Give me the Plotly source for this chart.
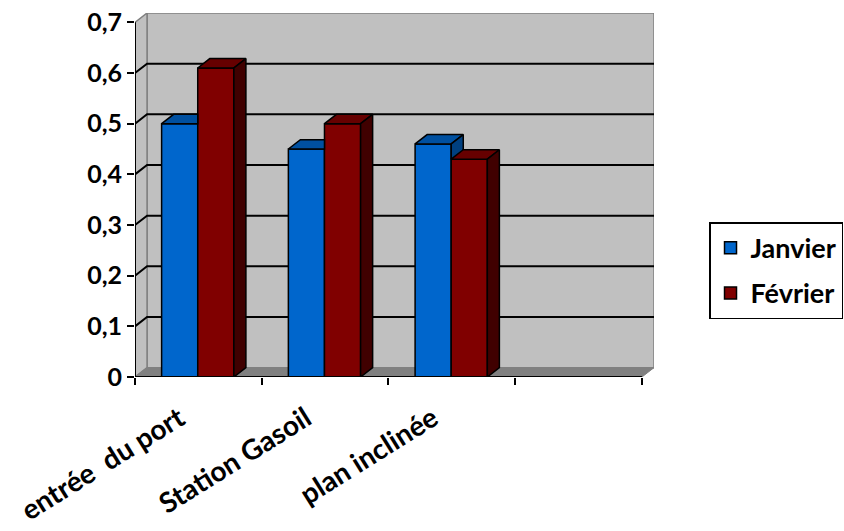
import plotly.graph_objects as go

# ---------------- data ----------------
categories = ["entrée  du port", "Station Gasoil", "plan inclinée", ""]
janvier = [0.50, 0.45, 0.46]
fevrier = [0.61, 0.50, 0.43]
series_names = ["Janvier", "Février"]
y_tick_values = [0, 0.1, 0.2, 0.3, 0.4, 0.5, 0.6, 0.7]
y_tick_labels = ["0", "0,1", "0,2", "0,3", "0,4", "0,5", "0,6", "0,7"]

# ---------------- style ----------------
front_colors = ["#0066CC", "#800000"]
top_colors = ["#0050A0", "#660000"]
side_colors = ["#004080", "#400000"]
WALL = "#C0C0C0"
FLOOR = "#808080"
EDGE = "#808080"
FONT = "Lato"
DX = 0.095      # depth offset in category units
DY = 0.0185     # depth offset in value units
BAR_W = 0.285
OFFSETS = [-0.29, -0.005]
LABEL_SHIFT = -0.15   # rotated category labels sit slightly left of slot centre
YMAX = y_tick_values[-1]
n_slots = len(categories)
x_left, x_right = -0.5, n_slots - 0.5
series = [janvier, fevrier]
x_pos = list(range(len(janvier)))

fig = go.Figure()

# front faces (real bars)
for s, vals in enumerate(series):
    fig.add_trace(go.Bar(
        x=x_pos, y=vals, name=series_names[s], width=BAR_W, offset=OFFSETS[s],
        marker=dict(color=front_colors[s], line=dict(color="black", width=1.5)),
        legendgroup=series_names[s],
    ))

def poly(xs, ys, color):
    fig.add_trace(go.Scatter(
        x=xs + [xs[0]], y=ys + [ys[0]], mode="lines", fill="toself",
        fillcolor=color, line=dict(color="black", width=1.5),
        showlegend=False, hoverinfo="skip"))

# top and side faces, drawn in depth order
for s, vals in enumerate(series):
    nxt = series[s + 1] if s + 1 < len(series) else None
    for i, v in enumerate(vals):
        xl = x_pos[i] + OFFSETS[s]
        xr = xl + BAR_W
        vn = nxt[i] if nxt is not None else None
        if vn is not None and vn >= v + DY:
            poly([xl, xr, xr, xl + DX], [v, v, v + DY, v + DY], top_colors[s])
        else:
            poly([xl, xr, xr + DX, xl + DX], [v, v, v + DY, v + DY], top_colors[s])
        if vn is None:
            poly([xr, xr + DX, xr + DX, xr], [0, DY, v + DY, v], side_colors[s])
        elif v > vn:
            poly([xr, xr, xr + DX, xr + DX], [vn, v, v + DY, vn], side_colors[s])

# ---------------- walls, floor, grid ----------------
shapes = []
shapes.append(dict(type="rect", xref="x", yref="y", x0=x_left + DX, x1=x_right + DX,
                   y0=DY, y1=YMAX + DY, fillcolor=WALL, line=dict(color=EDGE, width=1.5),
                   layer="below"))
shapes.append(dict(type="path", xref="x", yref="y",
                   path=f"M {x_left},0 L {x_left+DX},{DY} L {x_left+DX},{YMAX+DY} L {x_left},{YMAX} Z",
                   fillcolor=WALL, line=dict(color=EDGE, width=1.5), layer="below"))
shapes.append(dict(type="path", xref="x", yref="y",
                   path=f"M {x_left},0 L {x_right},0 L {x_right+DX},{DY} L {x_left+DX},{DY} Z",
                   fillcolor=FLOOR, line=dict(color=EDGE, width=1), layer="below"))
for v in y_tick_values[1:-1]:
    shapes.append(dict(type="path", xref="x", yref="y",
                       path=f"M {x_left},{v} L {x_left+DX},{v+DY} L {x_right+DX},{v+DY}",
                       line=dict(color="black", width=2), layer="below"))
shapes.append(dict(type="line", xref="x", yref="y", x0=x_left, x1=x_left, y0=0, y1=YMAX,
                   line=dict(color="black", width=2)))
shapes.append(dict(type="line", xref="x", yref="y", x0=x_left, x1=x_right, y0=0, y1=0,
                   line=dict(color="black", width=2)))

fig.update_layout(
    width=844, height=531,
    margin=dict(l=135, r=190, t=13, b=154, autoexpand=False),
    paper_bgcolor="white", plot_bgcolor="white",
    barmode="overlay",
    shapes=shapes,
    font=dict(family=FONT, size=24, color="black", weight="bold"),
    showlegend=True,
    legend=dict(x=1.106, y=0.425, xanchor="left", yanchor="top",
                bgcolor="white", bordercolor="black", borderwidth=1.5,
                font=dict(family=FONT, size=27, color="black", weight="bold"),
                tracegroupgap=7),
    xaxis=dict(range=[x_left, x_right + DX], tickmode="array",
               tickvals=[k + LABEL_SHIFT for k in range(n_slots)], ticktext=categories,
               ticks="", tickangle=-32, showgrid=False, zeroline=False, showline=False,
               ticklabelstandoff=19, ticklabeloverflow="allow",
               minor=dict(tickmode="array", tickvals=[x_left + k for k in range(n_slots + 1)],
                          ticks="outside", ticklen=7, tickwidth=2, tickcolor="black",
                          showgrid=False),
               tickfont=dict(family=FONT, size=28, color="black", weight="bold")),
    yaxis=dict(range=[0, YMAX + DY], tickmode="array", tickvals=y_tick_values,
               ticktext=y_tick_labels, ticks="outside", ticklen=7, tickwidth=2,
               tickcolor="black", showgrid=False, zeroline=False, showline=False,
               ticklabeloverflow="allow",
               tickfont=dict(family=FONT, size=25, color="black", weight="bold")),
)

fig.write_html("out.html", post_script="document.body.style.margin='0';",
               config={"displayModeBar": False})
